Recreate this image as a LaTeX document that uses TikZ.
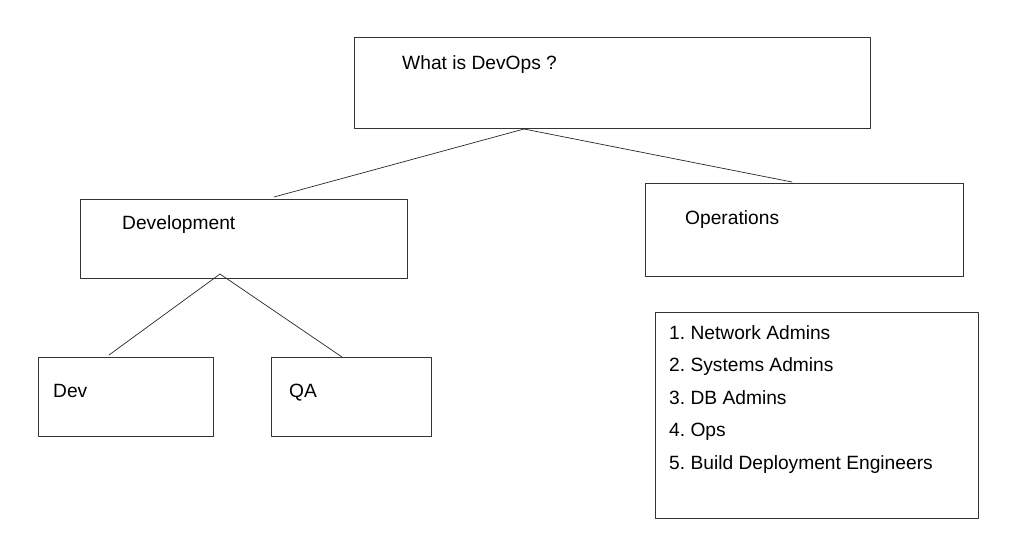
\documentclass[tikz,border=0pt]{standalone}
\usepackage{fontspec}
\setmainfont{Liberation Sans}
\frenchspacing
\begin{document}
\begin{tikzpicture}[x=1pt, y=-1pt, font=\fontsize{19.2}{23}\selectfont, line join=round, line cap=round,
	box/.style={draw=black!80, line width=1pt, inner sep=0pt, anchor=north west},
	boxtext/.style={anchor=base west, inner sep=0pt},
	link/.style={draw=black!85, line width=0.7pt}]
					\useasboundingbox (0,0) rectangle (1030,544);
					% boxes
					\node[box, minimum width=516pt, minimum height=91pt] (devops) at (354,37) {};
					\node[box, minimum width=327pt, minimum height=79pt] (development) at (80,199) {};
					\node[box, minimum width=318pt, minimum height=93pt] (operations) at (645,183) {};
					\node[box, minimum width=175pt, minimum height=79pt] (dev) at (38,357) {};
					\node[box, minimum width=160pt, minimum height=79pt] (qa) at (271,357) {};
					\node[box, minimum width=323pt, minimum height=206pt] (roles) at (655,312) {};
					% texts
					\node[boxtext] (devopstext) at (402,69.5) {What is DevOps ?};
					\node[boxtext] (developmenttext) at (122,229.5) {Development};
					\node[boxtext] (operationstext) at (685,224.5) {Operations};
					\node[boxtext] (devtext) at (53,397) {Dev};
					\node[boxtext] (qatext) at (289,397) {QA};
					\foreach \i/\role in {1/Network Admins, 2/Systems Admins, 3/DB Admins, 4/Ops, 5/Build Deployment Engineers}
					\node[boxtext] (role\i) at (669,{339+32.5*(\i-1)}) {\i.\ \role};
					% connectors
					\coordinate (devopssplit) at ([xshift=170pt]devops.south west);
					\coordinate (developmentsplit) at ([xshift=140pt, yshift=5pt]development.south west);
					\draw[link] (devopssplit) -- ([xshift=194pt, yshift=2pt]development.north west);
					\draw[link] (devopssplit) -- ([xshift=147pt, yshift=1pt]operations.north west);
					\draw[link] (developmentsplit) -- ([xshift=71pt, yshift=2pt]dev.north west);
					\draw[link] (developmentsplit) -- ([xshift=71pt]qa.north west);
\end{tikzpicture}
\end{document}
